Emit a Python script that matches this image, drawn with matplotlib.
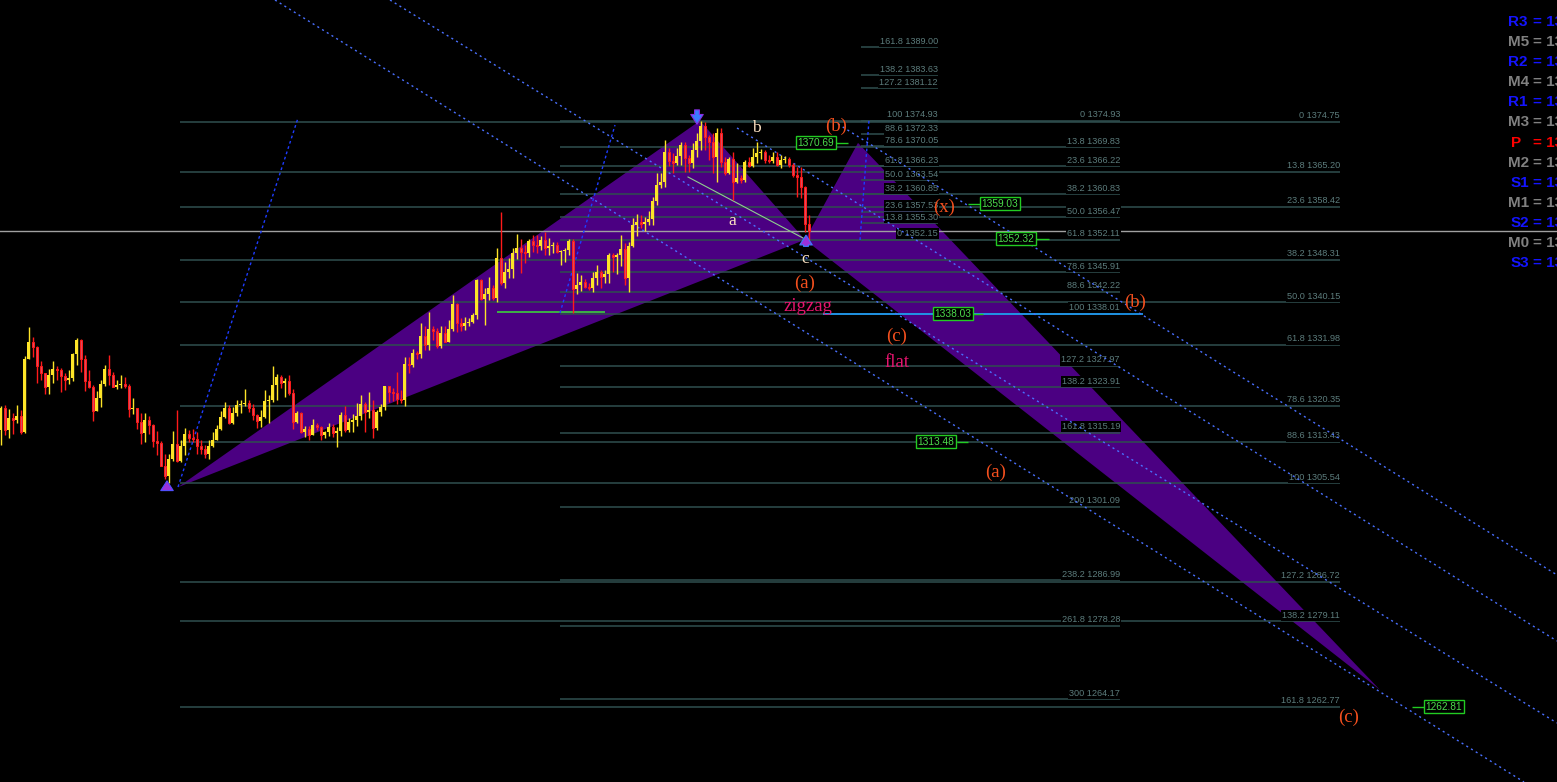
import numpy as np
import matplotlib.pyplot as plt
from matplotlib.patches import Polygon

plt.rcParams['font.family'] = ['Liberation Sans', 'DejaVu Sans']

# ---- candle data (one bar per slot, open = previous close) ----
first_open = 1315.7
closes = [
    1319.9, 1315.7, 1318.1, 1317.6, 1318.5, 1315.3, 1329.4, 1332.5, 1331.7, 1328.0,
    1326.6, 1323.9, 1326.2, 1327.5, 1327.2, 1326.0, 1325.4, 1325.7, 1330.3, 1332.9,
    1329.4, 1325.1, 1324.0, 1319.4, 1321.8, 1324.6, 1327.5, 1326.2, 1324.0, 1324.3,
    1324.6, 1324.1, 1319.7, 1319.9, 1317.3, 1315.1, 1317.6, 1316.7, 1313.6, 1313.3,
    1308.9, 1306.9, 1310.1, 1313.1, 1309.9, 1312.6, 1314.9, 1314.2, 1314.1, 1312.6,
    1312.1, 1311.2, 1312.6, 1313.9, 1315.9, 1318.2, 1319.9, 1317.0, 1319.0, 1320.5,
    1320.7, 1320.9, 1319.9, 1318.6, 1317.4, 1318.2, 1321.2, 1321.4, 1324.3, 1325.9,
    1324.7, 1325.1, 1322.8, 1317.2, 1319.0, 1315.3, 1315.9, 1314.7, 1316.7, 1316.3,
    1314.7, 1315.3, 1316.3, 1315.1, 1315.5, 1318.6, 1315.7, 1317.2, 1317.6, 1318.4,
    1320.7, 1319.1, 1319.5, 1316.1, 1319.1, 1320.1, 1324.1, 1323.0, 1322.8, 1321.6,
    1321.5, 1328.3, 1328.2, 1330.5, 1330.3, 1333.7, 1332.0, 1335.1, 1334.7, 1331.8,
    1334.3, 1332.6, 1335.1, 1339.8, 1336.2, 1335.6, 1336.2, 1336.4, 1337.7, 1344.4,
    1340.8, 1341.8, 1342.9, 1341.0, 1348.7, 1343.9, 1346.0, 1346.5, 1349.6, 1350.6,
    1349.8, 1349.6, 1351.9, 1351.1, 1351.0, 1352.1, 1350.6, 1351.0, 1351.1, 1349.8,
    1350.0, 1350.2, 1351.9, 1342.7, 1343.5, 1344.1, 1343.1, 1342.9, 1344.8, 1346.0,
    1345.0, 1345.6, 1349.2, 1348.9, 1349.2, 1350.4, 1344.8, 1351.0, 1355.0, 1355.6,
    1355.2, 1355.6, 1356.1, 1359.6, 1362.7, 1363.2, 1369.0, 1367.3, 1366.9, 1368.2,
    1370.3, 1367.8, 1366.9, 1369.4, 1371.1, 1374.0, 1371.9, 1370.9, 1368.0, 1372.6,
    1367.1, 1365.0, 1367.6, 1363.2, 1364.0, 1363.6, 1367.1, 1366.3, 1368.0, 1368.8,
    1369.0, 1367.4, 1367.3, 1368.0, 1366.5, 1367.4, 1367.6, 1366.5, 1364.6, 1364.2,
    1362.3, 1355.2, 1353.9]
highs = [
    1320.3, 1320.5, 1319.7, 1318.9, 1320.5, 1319.5, 1329.9, 1335.5, 1333.5, 1331.8,
    1328.9, 1326.6, 1327.5, 1328.9, 1328.0, 1327.7, 1326.6, 1327.3, 1330.5, 1333.3,
    1333.1, 1330.1, 1327.3, 1324.3, 1323.2, 1325.3, 1328.2, 1330.1, 1326.9, 1325.4,
    1326.2, 1325.8, 1324.5, 1321.9, 1320.0, 1318.9, 1318.9, 1318.4, 1316.8, 1315.6,
    1313.6, 1311.2, 1311.1, 1315.5, 1319.5, 1313.8, 1316.2, 1315.7, 1316.0, 1315.4,
    1313.8, 1312.8, 1313.8, 1315.3, 1316.7, 1319.3, 1321.1, 1320.5, 1320.1, 1321.5,
    1321.5, 1323.6, 1321.5, 1320.7, 1318.8, 1319.5, 1323.4, 1322.4, 1328.0, 1326.4,
    1326.2, 1325.7, 1326.2, 1323.6, 1319.3, 1319.2, 1316.5, 1316.5, 1317.8, 1317.0,
    1316.5, 1315.5, 1317.0, 1316.8, 1316.3, 1319.1, 1320.3, 1318.0, 1318.8, 1320.9,
    1322.4, 1321.1, 1323.0, 1321.5, 1319.5, 1320.7, 1324.1, 1324.1, 1323.7, 1326.8,
    1323.4, 1329.7, 1329.7, 1331.2, 1330.8, 1336.2, 1335.6, 1338.3, 1335.6, 1335.2,
    1335.6, 1335.6, 1336.8, 1341.6, 1340.0, 1337.2, 1337.4, 1337.2, 1338.1, 1344.6,
    1344.6, 1342.9, 1345.0, 1343.5, 1350.6, 1357.5, 1347.9, 1348.7, 1350.6, 1353.3,
    1352.3, 1351.2, 1352.3, 1353.1, 1353.1, 1352.9, 1353.7, 1352.5, 1351.7, 1351.7,
    1350.2, 1350.6, 1352.3, 1352.3, 1345.8, 1345.4, 1344.6, 1343.9, 1346.0, 1347.3,
    1346.4, 1346.4, 1349.6, 1349.6, 1349.6, 1353.1, 1351.5, 1351.7, 1356.3, 1357.1,
    1356.9, 1356.5, 1357.7, 1360.4, 1365.0, 1365.0, 1371.3, 1369.7, 1368.8, 1369.7,
    1370.9, 1370.9, 1368.4, 1370.7, 1372.6, 1374.93, 1374.7, 1372.2, 1372.6, 1373.6,
    1373.6, 1368.0, 1368.0, 1369.0, 1366.9, 1364.6, 1367.4, 1368.0, 1369.7, 1370.9,
    1369.6, 1369.4, 1368.4, 1369.0, 1369.0, 1368.4, 1368.2, 1368.0, 1366.9, 1366.1,
    1366.1, 1362.5, 1356.9]
lows = [
    1312.8, 1314.7, 1314.2, 1314.9, 1317.1, 1314.9, 1315.2, 1329.3, 1329.7, 1324.8,
    1325.4, 1322.7, 1322.7, 1324.8, 1325.4, 1323.0, 1323.4, 1324.5, 1325.1, 1328.2,
    1326.9, 1323.2, 1323.7, 1317.5, 1319.4, 1320.2, 1324.1, 1324.3, 1323.9, 1323.5,
    1323.7, 1323.7, 1318.2, 1318.8, 1315.9, 1313.1, 1313.4, 1314.9, 1312.4, 1311.0,
    1308.9, 1306.4, 1305.54, 1309.9, 1309.6, 1309.6, 1310.9, 1313.4, 1313.4, 1311.2,
    1311.2, 1310.3, 1310.1, 1312.4, 1313.8, 1315.7, 1318.0, 1316.8, 1316.9, 1318.5,
    1318.9, 1320.3, 1319.1, 1317.6, 1316.1, 1316.3, 1318.0, 1317.0, 1321.1, 1321.5,
    1323.7, 1322.0, 1322.4, 1315.9, 1317.0, 1315.1, 1314.4, 1313.9, 1314.7, 1315.7,
    1313.9, 1314.2, 1314.5, 1314.4, 1312.4, 1314.5, 1315.3, 1315.3, 1315.3, 1316.5,
    1317.6, 1315.3, 1318.0, 1314.2, 1315.7, 1318.5, 1319.5, 1321.1, 1321.3, 1320.7,
    1320.9, 1320.3, 1326.6, 1327.8, 1329.3, 1329.5, 1331.0, 1331.0, 1333.0, 1331.4,
    1331.4, 1332.6, 1332.6, 1334.7, 1334.5, 1334.7, 1334.9, 1335.6, 1336.2, 1337.0,
    1340.6, 1335.8, 1340.6, 1340.6, 1340.2, 1343.5, 1342.9, 1344.8, 1344.8, 1348.5,
    1345.8, 1347.7, 1348.9, 1349.8, 1349.6, 1350.2, 1349.2, 1349.2, 1349.6, 1349.6,
    1347.3, 1347.9, 1349.2, 1338.1, 1341.8, 1342.3, 1342.9, 1342.5, 1342.1, 1343.5,
    1342.9, 1343.9, 1343.9, 1346.0, 1345.6, 1347.1, 1343.5, 1342.1, 1350.8, 1352.9,
    1354.4, 1353.8, 1355.0, 1355.0, 1358.8, 1362.1, 1362.3, 1366.3, 1365.0, 1366.5,
    1366.5, 1365.2, 1365.2, 1365.9, 1368.0, 1369.4, 1369.4, 1367.4, 1365.0, 1363.2,
    1366.1, 1364.6, 1364.8, 1359.8, 1363.0, 1363.0, 1363.2, 1366.1, 1366.1, 1366.9,
    1367.6, 1366.9, 1366.9, 1366.9, 1366.3, 1365.9, 1366.9, 1366.1, 1364.2, 1360.4,
    1360.2, 1353.6, 1352.15]
opens = [first_open] + closes[:-1]
bid_price = 1353.88

# ---- harmonic pattern points X, A, B, C, D (bar, price) ----
pattern_bars = [44.25, 174.75, 201.0, 214.25, 344.75]
pattern_prices = [1304.8, 1374.93, 1352.15, 1370.69, 1266.0]

# ---- fibonacci sets ----
fib1_levels = ["0", "13.8", "23.6", "38.2", "50.0", "61.8", "78.6", "88.6", "100", "127.2", "138.2", "161.8"]
fib1_prices = [1352.15, 1355.30, 1357.53, 1360.85, 1363.54, 1366.23, 1370.05, 1372.33, 1374.93, 1381.12, 1383.63, 1389.00]
fib1_span = (215.0, 234.25)

fib2_levels = ["0", "13.8", "23.6", "38.2", "50.0", "61.8", "78.6", "88.6", "100", "127.2", "138.2",
               "161.8", "200", "238.2", "261.8", "300"]
fib2_prices = [1374.93, 1369.83, 1366.22, 1360.83, 1356.47, 1352.11, 1345.91, 1342.22, 1338.01, 1327.97,
               1323.91, 1315.19, 1301.09, 1286.99, 1278.28, 1264.17]
fib2_span = (139.75, 279.75)

fib3_levels = ["0", "13.8", "23.6", "38.2", "50.0", "61.8", "78.6", "88.6", "100", "127.2", "138.2", "161.8"]
fib3_prices = [1374.75, 1365.20, 1358.42, 1348.31, 1340.15, 1331.98, 1320.35, 1313.43, 1305.54, 1286.72, 1279.11, 1262.77]
fib3_span = (44.75, 334.75)

# ---- channel lines (bar, price) start / end ----
channel_lines = [
    ((68.5, 1398.03), (380.75, 1248.38)),
    ((97.25, 1398.03), (389.0, 1259.67)),
    ((184.0, 1373.54), (389.0, 1275.36)),
    ((209.25, 1374.30), (389.0, 1288.00)),
]
steep_lines = [
    ((44.25, 1304.83), (74.25, 1375.45)),
    ((139.75, 1338.13), (153.5, 1374.11)),
    ((214.75, 1352.10), (217.0, 1375.07)),
]

# ---- price boxes: value, bar position, stub segment ----
box_values = [1370.69, 1359.03, 1352.32, 1338.03, 1313.48, 1262.81]
box_bars = [203.75, 249.75, 253.75, 238.0, 233.75, 360.75]
box_stubs = [(208.75, 211.75), (241.75, 244.75), (258.75, 262.0), (243.0, 245.5), (239.0, 241.75), (352.75, 355.75)]

# ---- wave labels ----
wave_text = ["b", "a", "c", "(b)", "(x)", "(a)", "zigzag", "(c)", "flat", "(b)", "(a)", "(c)"]
wave_bars = [188.75, 182.75, 201.0, 208.75, 235.75, 201.0, 201.75, 224.0, 224.0, 283.5, 248.75, 337.0]
wave_prices = [1373.5, 1355.7, 1348.5, 1373.9, 1358.4, 1343.9, 1339.3, 1333.7, 1328.6, 1340.2, 1307.7, 1260.8]
wave_colors = ["#ffe4c4"] * 3 + ["#f5501e"] * 3 + ["#e6146e", "#f5501e", "#e6146e", "#f5501e", "#f5501e", "#f5501e"]

# ---- pivot list on the right ----
pivot_names = ["R3", "M5", "R2", "M4", "R1", "M3", "P", "M2", "S1", "M1", "S2", "M0", "S3"]
pivot_colors = ["#1414ff", "#808080", "#1414ff", "#808080", "#1414ff", "#808080", "#ff0000",
                "#808080", "#1414ff", "#808080", "#1414ff", "#808080", "#1414ff"]

W, H = 1557, 782
fig = plt.figure(figsize=(W / 100, H / 100), dpi=100)
fig.patch.set_facecolor("black")
ax = fig.add_axes([0, 0, 1, 1])
ax.set_facecolor("black")
ax.set_xlim(-0.25, 389.0)
ax.set_ylim(1248.38, 1398.03)
ax.axis("off")

# pattern triangles
pts = list(zip(pattern_bars, pattern_prices))
ax.add_patch(Polygon([pts[0], pts[1], pts[2]], closed=True, fc="#4b0082", ec="none", zorder=1))
ax.add_patch(Polygon([pts[2], pts[3], pts[4]], closed=True, fc="#4b0082", ec="none", zorder=1))

# fib lines + labels
for levels, prices, (x0, x1) in [(fib3_levels, fib3_prices, fib3_span),
                                 (fib2_levels, fib2_prices, fib2_span),
                                 (fib1_levels, fib1_prices, fib1_span)]:
    ax.hlines(prices, x0, x1, colors="#2f4f4f", lw=1.1, zorder=2)
    for lv, p in zip(levels, prices):
        ax.annotate(f"{lv} {p:.2f}", (x1, p), xytext=(0, 1.2), textcoords="offset points",
                    ha="right", va="bottom", fontsize=6.6, color="#5c7c7c", zorder=3,
                    bbox=dict(boxstyle="square,pad=0.12", fc="black", ec="none"))

# current price line
ax.axhline(bid_price, color="#a0a0a0", lw=1, zorder=2)

# helper lines
ax.hlines(1338.32, 124.0, 151.0, colors="#3ccf3c", lw=1.2, zorder=3)
ax.hlines(1338.03, 205.5, 285.5, colors="#1ea0ff", lw=1.2, zorder=3)
ax.plot([171.75, 200.5], [1364.16, 1352.48], color="#8fd08f", lw=0.8, zorder=4)

for (xa, ya), (xb, yb) in channel_lines:
    ax.plot([xa, xb], [ya, yb], color="#4a70ff", lw=1.0, ls=(0, (1.5, 2.5)), zorder=4)
for (xa, ya), (xb, yb) in steep_lines:
    ax.plot([xa, xb], [ya, yb], color="#1e3cff", lw=1.0, ls=(0, (2, 2)), zorder=4)

# candles
x = np.arange(len(closes))
o = np.array(opens)
c = np.array(closes)
h = np.array(highs)
lo = np.array(lows)
up = c >= o
wick_col = np.where(up, "#fde428", "#ff1a1a")
ax.vlines(x, lo, h, colors=wick_col, lw=1.0, zorder=5)
body_lo = np.minimum(o, c)
body_h = np.maximum(np.abs(c - o), 0.2)
ax.bar(x[up], body_h[up], bottom=body_lo[up], width=0.75, color="#fde428", ec="none", zorder=6)
ax.bar(x[~up], body_h[~up], bottom=body_lo[~up], width=0.55, color="#dc4a5e", ec="#ff1a1a",
       lw=0.7, zorder=6)

# swing arrows
arrow_style = "simple,head_width=0.9,head_length=0.7,tail_width=0.35"
ax.annotate("", xy=(41.5, lows[42] + 1.0), xytext=(41.5, lows[42] - 1.6),
            arrowprops=dict(arrowstyle=arrow_style, fc="#9b30d9", ec="#5050ff", lw=0.8), zorder=7)
ax.annotate("", xy=(174.0, highs[175] - 1.2), xytext=(174.0, highs[175] + 2.6),
            arrowprops=dict(arrowstyle=arrow_style, fc="#3a7bff", ec="#8a2be2", lw=0.8), zorder=7)
ax.annotate("", xy=(201.25, lows[202] + 1.4), xytext=(201.25, lows[202] - 1.8),
            arrowprops=dict(arrowstyle=arrow_style, fc="#9b30d9", ec="#3a7bff", lw=0.8), zorder=7)

# price boxes
for v, bx, (s0, s1) in zip(box_values, box_bars, box_stubs):
    ax.hlines(v, s0, s1, colors="#22cc22", lw=1.0, zorder=7)
    ax.text(bx, v, f"{v:.2f}", ha="center", va="center", fontsize=7.3, color="#4cdc4c", zorder=8,
            bbox=dict(boxstyle="square,pad=0.15", fc="black", ec="#22cc22", lw=1.0))

# wave labels
for t, bx, p, col in zip(wave_text, wave_bars, wave_prices, wave_colors):
    size = 12.5 if col == "#ffe4c4" else 13.5
    ax.text(bx, p, t, ha="center", va="center", fontsize=size, color=col,
            family=["Liberation Serif", "DejaVu Serif"], zorder=8)

# pivot list (cut at the right edge like the terminal window)
for i, (name, col) in enumerate(zip(pivot_names, pivot_colors)):
    yy = 1 - (22 + i * 20.1) / H
    x_name = 1511 if name[0] in "PS" else 1508
    fig.text(x_name / W, yy, name, ha="left", va="center", fontsize=11, fontweight="bold", color=col)
    fig.text(1533 / W, yy, "= 13", ha="left", va="center", fontsize=11, fontweight="bold", color=col)

fig.savefig("out.png", dpi=100, facecolor="black")
